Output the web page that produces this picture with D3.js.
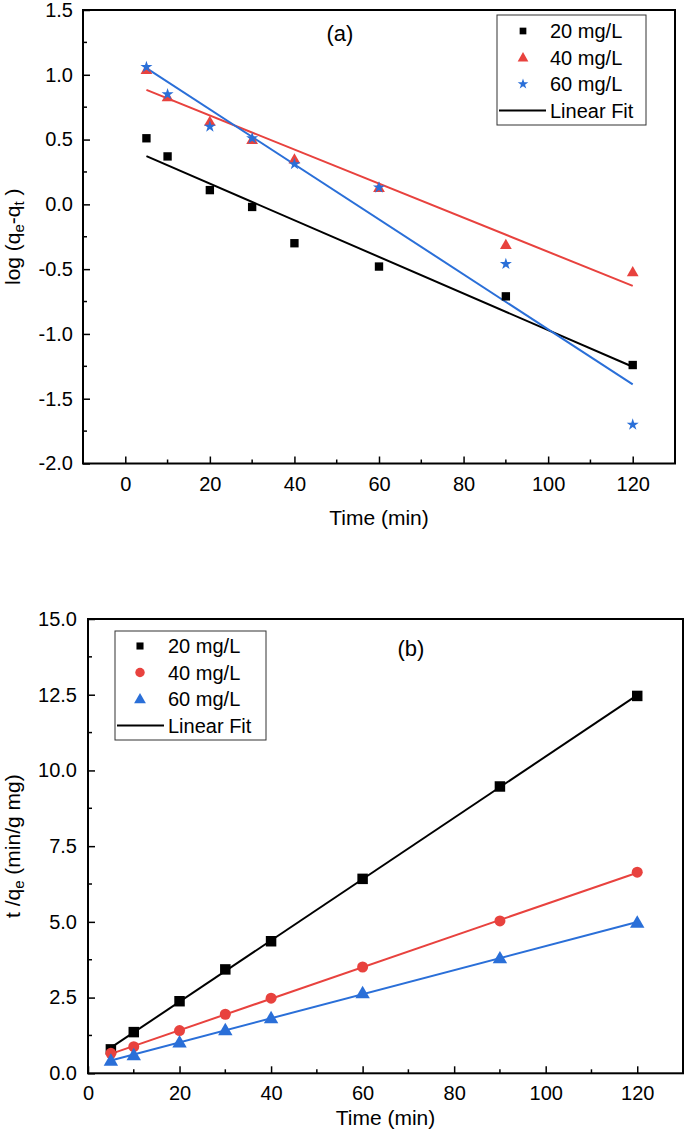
<!DOCTYPE html>
<html>
<head>
<meta charset="utf-8">
<script src="https://cdn.jsdelivr.net/npm/d3@7"></script>
<style>
  html, body { margin: 0; padding: 0; background: #fff; }
  svg { display: block; }
  text { font-family: "Liberation Sans", Arial, Helvetica, sans-serif; fill: #000; }
</style>
</head>
<body>
<svg id="chart" width="685" height="1132"></svg>
<script>
// ---------- DATA ----------
const times = [5, 10, 20, 30, 40, 60, 90, 120];
const seriesNames = ["20 mg/L", "40 mg/L", "60 mg/L"];
// (a) pseudo-first-order: log(qe - qt)
const pfo20 = [0.51, 0.37, 0.11, -0.02, -0.30, -0.48, -0.71, -1.24];
const pfo40 = [1.04, 0.83, 0.64, 0.50, 0.35, 0.13, -0.31, -0.52];
const pfo60 = [1.06, 0.85, 0.60, 0.51, 0.31, 0.13, -0.46, -1.70];
// (b) pseudo-second-order: t/qe
const pso20 = [0.79, 1.36, 2.38, 3.43, 4.36, 6.42, 9.47, 12.46];
const pso40 = [0.66, 0.88, 1.41, 1.95, 2.48, 3.51, 5.03, 6.64];
const pso60 = [0.42, 0.60, 1.02, 1.43, 1.82, 2.65, 3.80, 4.98];
// ticks
const xTicksA = [0, 20, 40, 60, 80, 100, 120];
const yTicksA = [-2.0, -1.5, -1.0, -0.5, 0.0, 0.5, 1.0, 1.5];
const xTicksB = [0, 20, 40, 60, 80, 100, 120];
const yTicksB = [0.0, 2.5, 5.0, 7.5, 10.0, 12.5, 15.0];

const RED = "#e8423e", BLUE = "#2a6fd8", BLACK = "#000";
const FONT = 20, TITLE_FONT = 21;

const svg = d3.select("#chart");
const fmt1 = v => d3.format(".1f")(v).replace("\u2212", "-");

function linFit(xs, ys) {
  const n = xs.length;
  const mx = d3.mean(xs), my = d3.mean(ys);
  let sxy = 0, sxx = 0;
  for (let i = 0; i < n; i++) { sxy += (xs[i]-mx)*(ys[i]-my); sxx += (xs[i]-mx)**2; }
  const b = sxy / sxx, a = my - b*mx;
  return x => a + b*x;
}

function drawPanel(cfg) {
  const g = svg.append("g");
  const x = d3.scaleLinear().domain(cfg.xDomain).range([cfg.left, cfg.right]);
  const y = d3.scaleLinear().domain(cfg.yDomain).range([cfg.bottom, cfg.top]);

  // frame
  g.append("rect").attr("x", cfg.left).attr("y", cfg.top)
    .attr("width", cfg.right - cfg.left).attr("height", cfg.bottom - cfg.top)
    .attr("fill", "none").attr("stroke", "#000").attr("stroke-width", 2);

  // bottom axis
  const xa = g.append("g").attr("transform", `translate(0,${cfg.bottom})`)
    .call(d3.axisBottom(x).tickValues(cfg.xTicks).tickSizeInner(-7).tickSizeOuter(0).tickPadding(13).tickFormat(d3.format("d")));
  xa.select(".domain").remove();
  xa.selectAll(".tick line").attr("stroke-width", 1.5);
  xa.selectAll("text").style("font-size", FONT + "px").attr("font-family", null);
  // minor x
  const step = cfg.xTicks[1] - cfg.xTicks[0];
  const xMinor = [cfg.xTicks[0] - step/2].concat(cfg.xTicks.map(t => t + step/2))
    .filter(v => v > cfg.xDomain[0] && v < cfg.xDomain[1]);
  g.selectAll(".xminor").data(xMinor).join("line")
    .attr("x1", d => x(d)).attr("x2", d => x(d))
    .attr("y1", cfg.bottom).attr("y2", cfg.bottom - 4)
    .attr("stroke", "#000").attr("stroke-width", 1.5);

  // left axis
  const ya = g.append("g").attr("transform", `translate(${cfg.left},0)`)
    .call(d3.axisLeft(y).tickValues(cfg.yTicks).tickSizeInner(-7).tickSizeOuter(0).tickPadding(cfg.yPad).tickFormat(fmt1));
  ya.select(".domain").remove();
  ya.selectAll(".tick line").attr("stroke-width", 1.5);
  ya.selectAll("text").style("font-size", FONT + "px").attr("font-family", null);
  const yMinor = cfg.yTicks.slice(0, -1).map((t, i) => (t + cfg.yTicks[i+1]) / 2);
  g.selectAll(".yminor").data(yMinor).join("line")
    .attr("x1", cfg.left).attr("x2", cfg.left + 4)
    .attr("y1", d => y(d)).attr("y2", d => y(d))
    .attr("stroke", "#000").attr("stroke-width", 1.5);

  // axis titles
  g.append("text").attr("x", (cfg.left + cfg.right)/2).attr("y", cfg.xTitleY)
    .attr("text-anchor", "middle").style("font-size", TITLE_FONT + "px").text("Time (min)");
  cfg.yTitle(g.append("text")
    .attr("transform", `translate(${cfg.yTitleX},${(cfg.top + cfg.bottom)/2}) rotate(-90)`)
    .attr("text-anchor", "middle").style("font-size", TITLE_FONT + "px"));

  // panel label
  g.append("text").attr("x", cfg.labelX).attr("y", cfg.labelY).attr("text-anchor", "middle")
    .style("font-size", "22px").text(cfg.label);

  // fits + points
  cfg.series.forEach(s => {
    const f = linFit(times, s.values);
    g.append("line")
      .attr("x1", x(times[0])).attr("y1", y(f(times[0])))
      .attr("x2", x(times[times.length-1])).attr("y2", y(f(times[times.length-1])))
      .attr("stroke", s.color).attr("stroke-width", 2);
  });
  cfg.series.forEach(s => {
    g.selectAll(null).data(times.map((t, i) => [t, s.values[i]])).join("path")
      .attr("transform", d => `translate(${x(d[0])},${y(d[1]) + (s.dy || 0)})`)
      .attr("d", d3.symbol().type(s.symbol).size(s.size))
      .attr("fill", s.color);
  });

  // legend
  const L = cfg.legend;
  g.append("rect").attr("x", L.x).attr("y", L.y).attr("width", L.w).attr("height", L.h)
    .attr("fill", "#fff").attr("stroke", "#333").attr("stroke-width", 1);
  cfg.series.forEach((s, i) => {
    const cy = L.y + L.row0 + i * L.step;
    g.append("path").attr("transform", `translate(${L.x + L.symX},${cy + (s.dy ? s.dy*0.8 : 0)})`)
      .attr("d", d3.symbol().type(s.symbol).size(s.legSize)).attr("fill", s.color);
    g.append("text").attr("x", L.x + L.textX).attr("y", cy).attr("dy", "0.35em")
      .style("font-size", L.font + "px").text(seriesNames[i]);
  });
  const cy = L.y + L.row0 + 3 * L.step;
  g.append("line").attr("x1", L.x + 2).attr("x2", L.x + L.textX - 4)
    .attr("y1", cy).attr("y2", cy).attr("stroke", "#000").attr("stroke-width", 2);
  g.append("text").attr("x", L.x + L.textX).attr("y", cy).attr("dy", "0.35em")
    .style("font-size", L.font + "px").text("Linear Fit");
}

// Panel (a)
drawPanel({
  xDomain: [-10, 130], yDomain: [-2.0, 1.5],
  left: 83, right: 675, top: 10, bottom: 463.5,
  xTicks: xTicksA, yTicks: yTicksA, yPad: 10,
  xTitleY: 525, yTitleX: 20,
  yTitle: t => {
    t.append("tspan").text("log (q");
    t.append("tspan").attr("baseline-shift", "-25%").style("font-size", "15px").text("e");
    t.append("tspan").text("-q");
    t.append("tspan").attr("baseline-shift", "-25%").style("font-size", "15px").text("t");
    t.append("tspan").text(" )");
  },
  label: "(a)", labelX: 340, labelY: 41,
  series: [
    { values: pfo20, color: BLACK, symbol: d3.symbolSquare, size: 70, legSize: 45 },
    { values: pfo40, color: RED, symbol: d3.symbolTriangle, size: 60, legSize: 50, dy: 1 },
    { values: pfo60, color: BLUE, symbol: d3.symbolStar, size: 45, legSize: 35 }
  ],
  legend: { x: 497, y: 15, w: 149, h: 110, row0: 16, step: 26.5, symX: 26, textX: 53, font: 20 }
});

// Panel (b)
drawPanel({
  xDomain: [0, 130], yDomain: [0, 15],
  left: 88, right: 683, top: 619, bottom: 1073.3,
  xTicks: xTicksB, yTicks: yTicksB, yPad: 11,
  xTitleY: 1125, yTitleX: 20,
  yTitle: t => {
    t.append("tspan").text("t /q");
    t.append("tspan").attr("baseline-shift", "-25%").style("font-size", "15px").text("e");
    t.append("tspan").text(" (min/g mg)");
  },
  label: "(b)", labelX: 411, labelY: 656,
  series: [
    { values: pso20, color: BLACK, symbol: d3.symbolSquare, size: 110, legSize: 50 },
    { values: pso40, color: RED, symbol: d3.symbolCircle, size: 95, legSize: 70 },
    { values: pso60, color: BLUE, symbol: d3.symbolTriangle, size: 90, legSize: 60, dy: 1 }
  ],
  legend: { x: 115, y: 631, w: 151, h: 109, row0: 15, step: 26.5, symX: 25, textX: 53, font: 20 }
});
</script>
</body>
</html>
